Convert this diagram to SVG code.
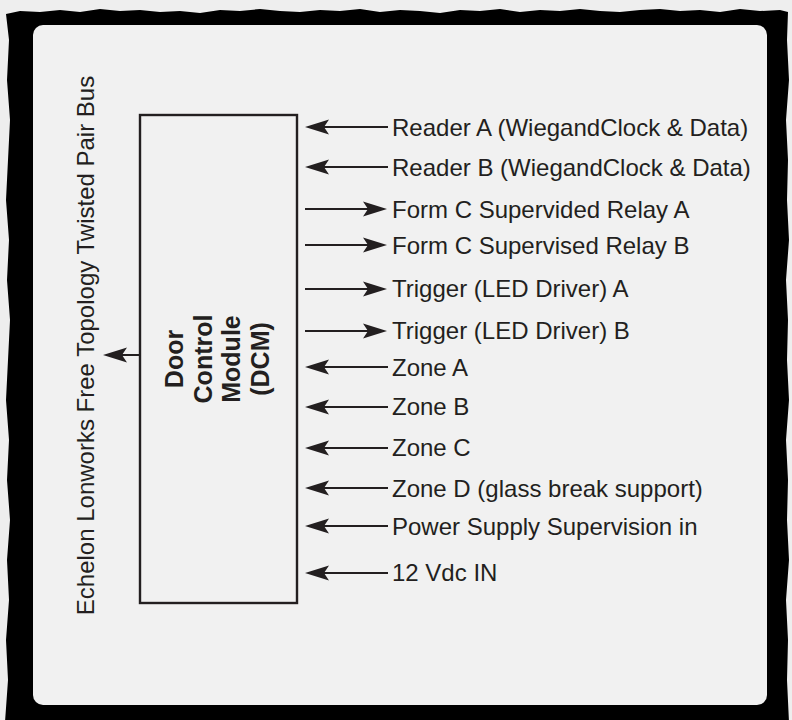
<svg xmlns="http://www.w3.org/2000/svg" width="792" height="720" viewBox="0 0 792 720">
<style>
.lbl{font-family:"Liberation Sans",Arial,sans-serif;font-size:24px;fill:#231f20}
.box{fill:none;stroke:#231f20;stroke-width:2.4}
.wire{stroke:#231f20;stroke-width:2.2;fill:none}
.dcm{font-family:"Liberation Sans",Arial,sans-serif;font-size:25px;font-weight:bold;fill:#231f20}
</style>
<defs>
<marker id="ah" viewBox="-22 -9 28 18" markerWidth="28" markerHeight="18" refX="0" refY="0" orient="auto" markerUnits="userSpaceOnUse">
<path d="M4,0 L-20,-7.5 L-15,0 L-20,7.5 Z" fill="#231f20"/>
</marker>
</defs>
<rect width="792" height="720" fill="#eeeeee"/>
<path fill="#000" d="M6,14 L20,11 L40,12 L60,10 L80,12 L100,9 L120,11 L140,10 L160,12 L180,11 L200,13 L220,10 L240,11 L260,9 L280,11 L300,12 L320,10 L340,11 L360,9 L380,12 L400,10 L420,11 L440,13 L460,10 L480,11 L500,9 L520,12 L540,10 L560,11 L580,9 L600,11 L620,12 L640,10 L660,9 L680,11 L700,10 L720,12 L740,9 L760,11 L780,10 L788,12 L787,40 L789,80 L786,120 L788,160 L787,200 L789,240 L786,280 L788,320 L787,360 L789,400 L786,440 L788,480 L787,520 L789,560 L786,600 L788,640 L787,680 L789,722 L5,722 L8,680 L6,640 L9,600 L7,560 L10,520 L7,480 L9,440 L6,400 L8,360 L10,320 L7,280 L9,240 L6,200 L8,160 L10,120 L7,80 L9,40 Z"/>
<rect x="33" y="25" width="734" height="680" rx="10" fill="#f1f1f1"/>
<g id="bus">
<text class="lbl" transform="translate(94,345.5) rotate(-90)" text-anchor="middle">Echelon Lonworks Free Topology Twisted Pair Bus</text>
</g>
<g id="dcm">
<rect class="box" x="140" y="115" width="157" height="488"/>
<text class="dcm" text-anchor="middle" transform="translate(183,359) rotate(-90)">Door</text>
<text class="dcm" text-anchor="middle" transform="translate(211.5,359) rotate(-90)">Control</text>
<text class="dcm" text-anchor="middle" transform="translate(240,359) rotate(-90)">Module</text>
<text class="dcm" text-anchor="middle" transform="translate(268.5,359) rotate(-90)">(DCM)</text>
</g>
<g id="labels">
<text class="lbl" x="392" y="136">Reader A (WiegandClock &amp; Data)</text>
<text class="lbl" x="392" y="176">Reader B (WiegandClock &amp; Data)</text>
<text class="lbl" x="392" y="218">Form C Supervided Relay A</text>
<text class="lbl" x="392" y="254">Form C Supervised Relay B</text>
<text class="lbl" x="392" y="297">Trigger (LED Driver) A</text>
<text class="lbl" x="392" y="339">Trigger (LED Driver) B</text>
<text class="lbl" x="392" y="376">Zone A</text>
<text class="lbl" x="392" y="415">Zone B</text>
<text class="lbl" x="392" y="456">Zone C</text>
<text class="lbl" x="392" y="497">Zone D (glass break support)</text>
<text class="lbl" x="392" y="535">Power Supply Supervision in</text>
<text class="lbl" x="392" y="581">12 Vdc IN</text>
</g>
<g id="connectors">
<line class="wire" x1="140" y1="355" x2="107" y2="355" marker-end="url(#ah)"/>
<line class="wire" x1="388" y1="127" x2="309" y2="127" marker-end="url(#ah)"/>
<line class="wire" x1="388" y1="167" x2="309" y2="167" marker-end="url(#ah)"/>
<line class="wire" x1="305" y1="209" x2="383" y2="209" marker-end="url(#ah)"/>
<line class="wire" x1="305" y1="245" x2="383" y2="245" marker-end="url(#ah)"/>
<line class="wire" x1="305" y1="289" x2="383" y2="289" marker-end="url(#ah)"/>
<line class="wire" x1="305" y1="331" x2="383" y2="331" marker-end="url(#ah)"/>
<line class="wire" x1="388" y1="367" x2="309" y2="367" marker-end="url(#ah)"/>
<line class="wire" x1="388" y1="407" x2="309" y2="407" marker-end="url(#ah)"/>
<line class="wire" x1="388" y1="448" x2="309" y2="448" marker-end="url(#ah)"/>
<line class="wire" x1="388" y1="488" x2="309" y2="488" marker-end="url(#ah)"/>
<line class="wire" x1="388" y1="526" x2="309" y2="526" marker-end="url(#ah)"/>
<line class="wire" x1="388" y1="573" x2="309" y2="573" marker-end="url(#ah)"/>
</g>
</svg>
